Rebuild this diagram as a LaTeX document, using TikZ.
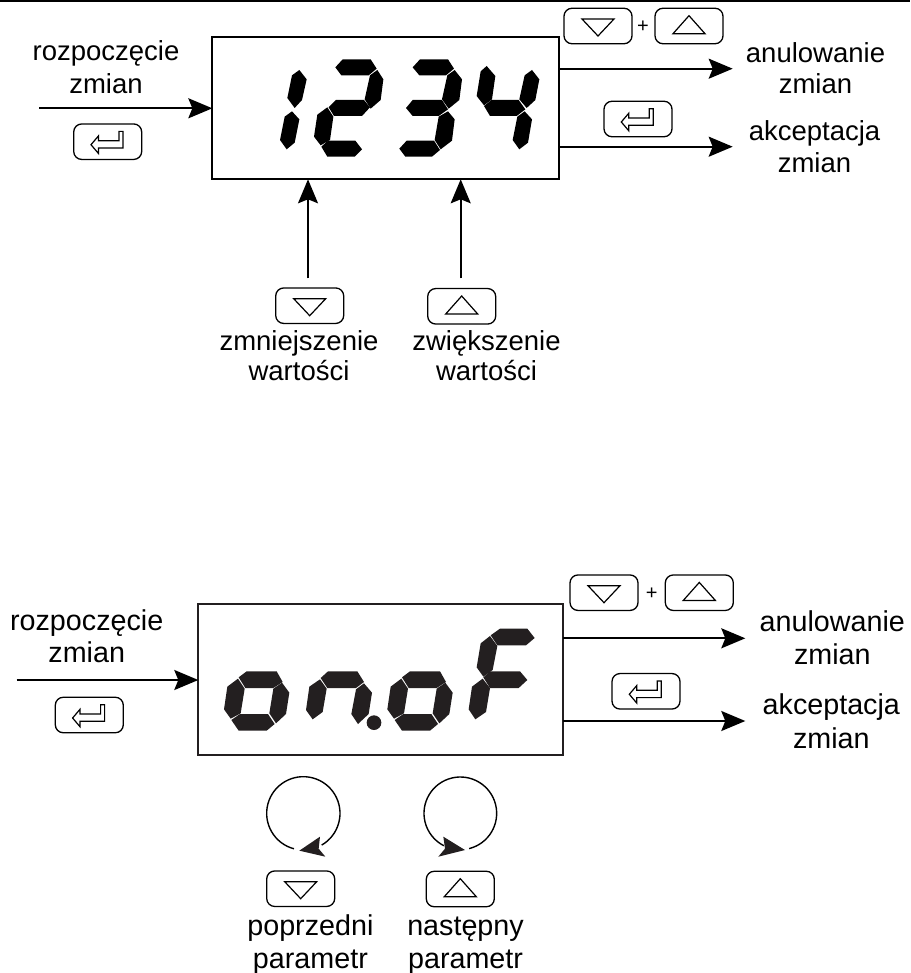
\documentclass[tikz,border=0pt]{standalone}
\usepackage{fontspec}
\setmainfont{Liberation Sans}
\usetikzlibrary{arrows.meta,calc}
\definecolor{inkb}{HTML}{231F20}
\tikzset{
  dbox/.style={draw,line width=2pt,outer sep=0pt,inner sep=0pt},
  keybox/.style={draw,line width=1.3pt,rounded corners=8pt,outer sep=0pt,inner sep=0pt,minimum width=68pt,minimum height=35.5pt},
  icon/.style={line width=1.2pt,line join=miter},
  lbl/.style={align=center,inner sep=0pt,anchor=base,font=\fontsize{27.5}{#1}\selectfont},
  lblb/.style={align=center,inner sep=0pt,anchor=base,font=\fontsize{28.7}{#1}\selectfont},
  plussign/.style={font=\fontsize{20}{20}\selectfont,inner sep=0pt},
  seg/.style={fill=black},
  conn/.style={-{Stealth[length=24pt,width=20pt,inset=4pt]}},
  zoomed/.style={x=0.33333pt,y=-0.33333pt},
}
\newcommand{\keydown}[3]{\node[keybox] (#1) at (#2,#3) {};
  \draw[icon] ($(#1)+(-16,-7)$) -- ++(32,0) -- ++(-16,17) -- cycle;}
\newcommand{\keyup}[3]{\node[keybox] (#1) at (#2,#3) {};
  \draw[icon] ($(#1)+(-16,7.7)$) -- ++(32,0) -- ++(-16,-18) -- cycle;}
\newcommand{\keyenter}[3]{\node[keybox] (#1) at (#2,#3) {};
  \draw[icon] ($(#1)+(-16.7,3)$) -- ++(7.4,-8.7) -- ++(0,4.7) -- ++(20.6,0) -- ++(0,-9.3) -- ++(4,0) -- ++(0,16.6) -- ++(-24.6,0) -- ++(0,5.4) -- cycle;}
\newcommand{\oglyph}{%
  \fill[seg] (170,244)--(260,244)--(278,276)--(250,294)--(166,294)--(146,262)--cycle;
  \fill[seg] (144,266)--(164,296)--(152,370)--(122,386)--(102,358)--(112,290)--cycle;
  \fill[seg] (276,278)--(298,308)--(288,372)--(258,400)--(238,370)--(250,296)--cycle;
  \fill[seg] (150,372)--(234,372)--(254,402)--(230,422)--(146,422)--(124,390)--cycle;}
\begin{document}
\begin{tikzpicture}[x=1pt,y=-1pt]
\useasboundingbox (0,0) rectangle (910,973);
\draw[line width=1.6pt] (0,0.8) -- (910,0.8);

% ---------- upper panel ----------
\node[dbox,minimum width=346.7pt,minimum height=142.6pt] (b1) at (385.7,108) {};
\begin{scope}[shift={(200,20)},zoomed]
  \fill[seg] (298,150)--(320,178)--(306,240)--(284,264)--(262,234)--(276,166)--cycle;
  \fill[seg] (276,274)--(298,298)--(284,368)--(260,388)--(240,360)--(254,290)--cycle;
  \fill[seg] (428,118)--(512,118)--(530,146)--(506,166)--(424,166)--(406,142)--cycle;
  \fill[seg] (532,150)--(550,178)--(542,240)--(512,266)--(494,238)--(510,166)--cycle;
  \fill[seg] (408,240)--(492,240)--(510,262)--(486,288)--(402,288)--(386,262)--cycle;
  \fill[seg] (382,262)--(400,290)--(390,360)--(362,376)--(342,350)--(352,284)--cycle;
  \fill[seg] (384,362)--(466,362)--(486,388)--(464,410)--(382,410)--(364,380)--cycle;
  \fill[seg] (660,118)--(744,118)--(762,146)--(738,166)--(658,166)--(638,142)--cycle;
  \fill[seg] (764,150)--(786,178)--(778,240)--(746,266)--(726,238)--(742,166)--cycle;
  \fill[seg] (638,240)--(726,240)--(744,268)--(716,288)--(638,288)--(618,264)--cycle;
  \fill[seg] (744,274)--(764,298)--(756,362)--(722,388)--(704,360)--(716,290)--cycle;
  \fill[seg] (620,362)--(702,362)--(720,390)--(696,410)--(616,410)--(598,386)--cycle;
  \fill[seg] (860,138)--(886,168)--(876,238)--(852,256)--(830,228)--(842,154)--cycle;
  \fill[seg] (996,150)--(1018,178)--(1006,240)--(980,264)--(958,238)--(974,166)--cycle;
  \fill[seg] (874,240)--(956,240)--(976,268)--(950,288)--(870,288)--(852,258)--cycle;
  \fill[seg] (974,274)--(996,298)--(984,368)--(958,388)--(938,360)--(952,290)--cycle;
\end{scope}

\node[lbl=32.6] (t1) at (106,93.3) {rozpoczęcie\\zmian};
\node[lbl=30.8] (t2) at (815.5,93.3) {anulowanie\\zmian};
\node[lbl=31.3] (t3) at (814.5,172.3) {akceptacja\\zmian};
\node[lbl=30] (t4) at (299,380) {zmniejszenie\\wartości};
\node[lbl=30] (t5) at (486.5,380) {zwiększenie\\wartości};

\keyenter{k1}{107.7}{141.7}
\keydown{k2}{598}{26}
\keyup{k3}{689}{26}
\node[plussign] (p1) at (643,26.7) {+};
\keyenter{k4}{638}{119}
\keydown{k5}{309.7}{305.7}
\keyup{k6}{461.7}{306.3}

\coordinate (s1) at (39,108.3);
\coordinate (e1) at (732.7,68.7);
\coordinate (e2) at (732.7,146.7);
\coordinate (u1) at (308,278.3);
\coordinate (u2) at (460.7,278.3);
\draw[conn,line width=2.2pt] (s1) -- (s1 -| b1.west);
\draw[conn,line width=2pt] (e1 -| b1.east) -- (e1);
\draw[conn,line width=2.3pt] (e2 -| b1.east) -- (e2);
\draw[conn,line width=1.7pt] (u1) -- (u1 |- b1.south);
\draw[conn,line width=1.7pt] (u2) -- (u2 |- b1.south);

% ---------- lower panel ----------
\begin{scope}[color=inkb,fill=inkb,text=black]
\node[dbox,minimum width=365pt,minimum height=150.7pt] (b2) at (380.8,679.4) {};
\end{scope}
\begin{scope}[shift={(190,590)},zoomed,seg/.style={fill=inkb}]
  \oglyph
  \fill[seg] (414,244)--(502,244)--(522,276)--(498,294)--(412,294)--(392,264)--cycle;
  \fill[seg] (390,268)--(410,296)--(398,366)--(368,388)--(348,360)--(358,290)--cycle;
  \fill[seg] (522,280)--(546,308)--(536,372)--(504,402)--(484,372)--(498,298)--cycle;
  \fill[seg] (552,398) circle[radius=22];
  \begin{scope}[shift={(490,0)}]\oglyph\end{scope}
  \fill[seg] (930,116)--(1012,116)--(1034,144)--(1008,166)--(922,166)--(902,136)--cycle;
  \fill[seg] (900,138)--(922,168)--(908,240)--(880,260)--(860,232)--(872,160)--cycle;
  \fill[seg] (900,244)--(990,244)--(1012,270)--(986,294)--(900,294)--(880,262)--cycle;
  \fill[seg] (878,266)--(900,294)--(888,366)--(856,388)--(836,358)--(846,290)--cycle;
\end{scope}

\node[lblb=32.7] (t6) at (86.7,662.7) {rozpoczęcie\\zmian};
\node[lblb=32.7] (t7) at (832.3,664.3) {anulowanie\\zmian};
\node[lblb=34.3] (t8) at (831.3,748.3) {akceptacja\\zmian};
\node[lblb=33.3] (t9) at (310.4,968.3) {poprzedni\\parametr};
\node[lblb=33.3] (t10) at (465.5,968.3) {następny\\parametr};

\keyenter{k7}{89.3}{715}
\keydown{k8}{604}{592.7}
\keyup{k9}{699.3}{592.7}
\node[plussign] (p2) at (651.7,593.3) {+};
\keyenter{k10}{646}{691.3}
\keydown{k11}{300.7}{888.7}
\keyup{k12}{460.3}{889}

\coordinate (s2) at (16.7,680);
\coordinate (e3) at (745.3,638.3);
\coordinate (e4) at (745.3,721);
\draw[conn,line width=2pt] (s2) -- (s2 -| b2.west);
\draw[conn,line width=2pt] (e3 -| b2.east) -- (e3);
\draw[conn,line width=2pt] (e4 -| b2.east) -- (e4);

\begin{scope}[shift={(220,750)},zoomed]
  \draw[line width=1.4pt] (250,190)+(104.8:110) arc[start angle=104.8,end angle=420,radius=110];
  \fill[inkb] (238,302)--(300,260)--(296,296)--(316,320)--cycle;
  \draw[line width=1.4pt] (721,190)+(76:109) arc[start angle=76,end angle=-243,radius=109];
  \fill[inkb] (735,300)--(670,260)--(675,296)--(655,320)--cycle;
\end{scope}
\end{tikzpicture}
\end{document}
